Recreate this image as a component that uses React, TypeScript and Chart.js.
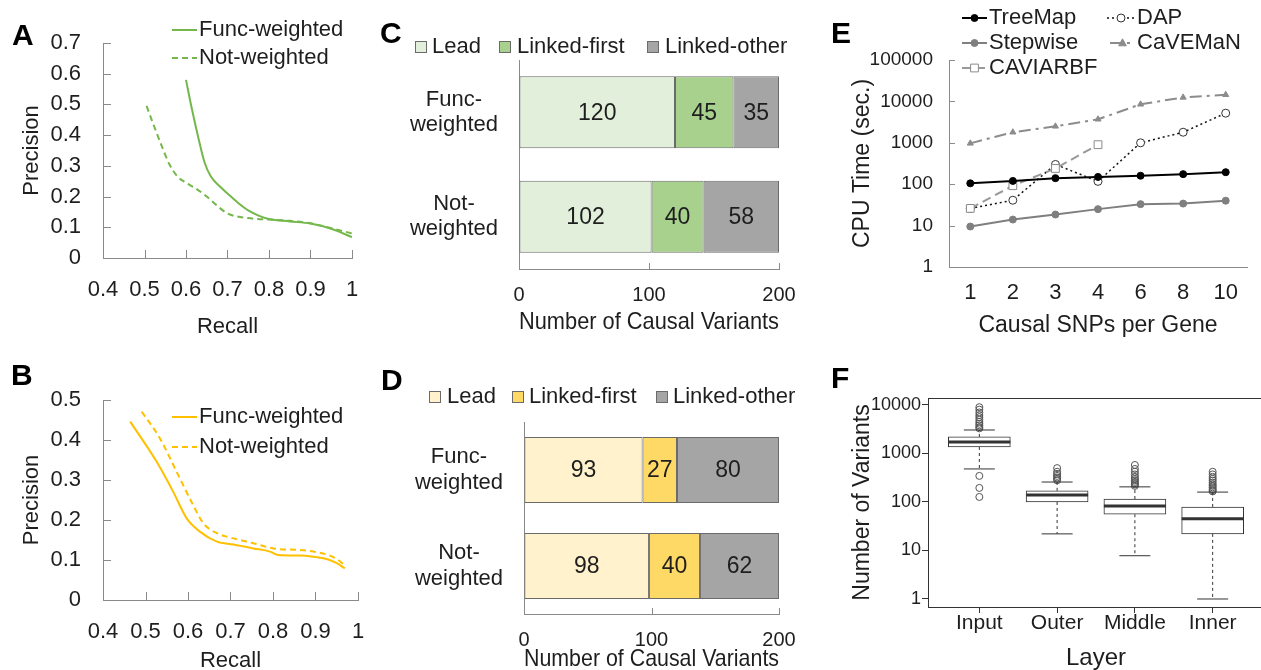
import React, { useEffect, useRef } from 'react';
import { Chart, registerables } from 'chart.js';

Chart.register(...registerables);

const FONT = "'Liberation Sans', Arial, Helvetica, sans-serif";
const TEXT = '#1e1e1e';
const AXIS = '#8a8a8a';

// ---------- Panel A (green precision / recall) ----------
const recallFuncA = [0.6, 0.615, 0.63, 0.645, 0.66, 0.68, 0.7, 0.725, 0.75, 0.775, 0.8, 0.85, 0.9, 0.95, 1.0];
const precisionFuncA = [0.58, 0.48, 0.39, 0.31, 0.265, 0.235, 0.21, 0.18, 0.155, 0.138, 0.127, 0.119, 0.112, 0.095, 0.068];
const recallNotA = [0.505, 0.52, 0.54, 0.56, 0.58, 0.6, 0.625, 0.65, 0.675, 0.7, 0.75, 0.8, 0.85, 0.9, 0.95, 1.0];
const precisionNotA = [0.495, 0.44, 0.37, 0.305, 0.265, 0.245, 0.225, 0.2, 0.17, 0.145, 0.13, 0.125, 0.121, 0.113, 0.097, 0.08];

// ---------- Panel B (gold precision / recall) ----------
const recallFuncB = [0.464, 0.526, 0.565, 0.597, 0.628, 0.668, 0.707, 0.754, 0.793, 0.812, 0.863, 0.895, 0.926, 0.95, 0.969];
const precisionFuncB = [0.446, 0.346, 0.271, 0.204, 0.171, 0.146, 0.139, 0.129, 0.121, 0.1125, 0.111, 0.108, 0.1025, 0.092, 0.079];
const recallNotB = [0.491, 0.534, 0.573, 0.612, 0.636, 0.668, 0.707, 0.754, 0.801, 0.863, 0.895, 0.93, 0.95, 0.969];
const precisionNotB = [0.471, 0.404, 0.321, 0.2375, 0.192, 0.167, 0.154, 0.142, 0.129, 0.125, 0.121, 0.1125, 0.1025, 0.0875];

// ---------- Panels C / D (stacked bars) ----------
const groupLabels = [['Func-', 'weighted'], ['Not-', 'weighted']];
const leadC = [120, 102];
const linkedFirstC = [45, 40];
const linkedOtherC = [35, 58];
const leadD = [93, 98];
const linkedFirstD = [27, 40];
const linkedOtherD = [80, 62];

// ---------- Panel E (CPU time) ----------
const snpCategories = ['1', '2', '3', '4', '6', '8', '10'];
const treeMapTime = [105, 120, 140, 150, 160, 175, 195];
const stepwiseTime = [9.5, 14, 18.5, 25, 33, 34, 40];
const dapTime = [26, 41, 300, 117, 1000, 1800, 5200];
const cavemanTime = [970, 1800, 2500, 3700, 8500, 12500, 14500];
const caviarbfTime = [26, 92, 240, 900, null, null, null];
const logTicksE = [1, 10, 100, 1000, 10000, 100000];

// ---------- Panel F (box plots) ----------
const layers = ['Input', 'Outer', 'Middle', 'Inner'];
const whiskerLow = [480, 22, 7.8, 1];
const quart1 = [1360, 100, 56, 22];
const medians = [1720, 140, 83, 45];
const quart3 = [2200, 170, 115, 79];
const whiskerHigh = [3050, 258, 205, 160];
const outliersInput = [3300, 3500, 3800, 4100, 4500, 5000, 5600, 6200, 7000, 8000, 9000, 345, 195, 127];
const outliersOuter = [280, 300, 320, 345, 380, 420, 500];
const outliersMiddle = [215, 230, 245, 260, 280, 300, 330, 370, 420, 480, 580];
const outliersInner = [165, 175, 185, 200, 215, 230, 250, 275, 300, 330, 370, 420];
const logTicksF = [1, 10, 100, 1000, 10000];

// ---------- plugins ----------
function drawMarker(ctx, style, x, y, r, fill, stroke, bw) {
  ctx.save();
  ctx.setLineDash([]);
  ctx.fillStyle = fill;
  ctx.strokeStyle = stroke;
  ctx.lineWidth = bw;
  ctx.beginPath();
  if (style === 'rect') {
    const s = r * Math.SQRT1_2;
    ctx.rect(x - s, y - s, 2 * s, 2 * s);
  } else if (style === 'triangle') {
    ctx.moveTo(x, y - r * 1.2);
    ctx.lineTo(x + r * 1.1, y + r * 0.8);
    ctx.lineTo(x - r * 1.1, y + r * 0.8);
    ctx.closePath();
  } else {
    ctx.arc(x, y, r, 0, Math.PI * 2);
  }
  ctx.fill();
  ctx.stroke();
  ctx.restore();
}

const customLegend = {
  id: 'customLegend',
  afterDraw(chart, _args, opts) {
    const ctx = chart.ctx;
    const items = opts.items || [];
    ctx.save();
    ctx.font = `${opts.size || 22}px ${FONT}`;
    ctx.textBaseline = 'middle';
    ctx.textAlign = 'left';
    for (let k = 0; k < items.length; k++) {
      const it = items[k];
      const d = chart.data.datasets[it.ds];
      if (opts.kind === 'box') {
        ctx.fillStyle = d.backgroundColor;
        ctx.strokeStyle = d.borderColor;
        ctx.lineWidth = 1;
        ctx.fillRect(it.x, it.y - 6, 12, 12);
        ctx.strokeRect(it.x + 0.5, it.y - 5.5, 11, 11);
      } else {
        ctx.strokeStyle = d.borderColor;
        ctx.lineWidth = d.borderWidth || 1.5;
        ctx.setLineDash(d.borderDash || []);
        ctx.beginPath();
        ctx.moveTo(it.x, it.y);
        ctx.lineTo(it.x + it.w, it.y);
        ctx.stroke();
        ctx.setLineDash([]);
        if (d.pointRadius) {
          drawMarker(ctx, d.pointStyle, it.x + it.w / 2, it.y, d.pointRadius, d.pointBackgroundColor, d.pointBorderColor, d.pointBorderWidth || 1);
        }
      }
      ctx.fillStyle = TEXT;
      ctx.fillText(d.label, it.tx, it.y);
    }
    ctx.restore();
  },
};

const insideTicks = {
  id: 'insideTicks',
  afterDraw(chart, _args, opts) {
    const ctx = chart.ctx;
    const axes = opts.axes || [];
    ctx.save();
    ctx.strokeStyle = AXIS;
    ctx.lineWidth = 1;
    for (let a = 0; a < axes.length; a++) {
      const s = chart.scales[axes[a].id];
      const len = axes[a].len;
      if (!s) continue;
      ctx.beginPath();
      for (let i = 0; i < s.ticks.length; i++) {
        const p = Math.round(s.getPixelForTick(i)) + 0.5;
        if (s.isHorizontal()) {
          ctx.moveTo(p, s.top);
          ctx.lineTo(p, s.top - len);
        } else {
          ctx.moveTo(s.right, p);
          ctx.lineTo(s.right + len, p);
        }
      }
      ctx.stroke();
    }
    ctx.restore();
  },
};

const barValues = {
  id: 'barValues',
  afterDatasetsDraw(chart) {
    const ctx = chart.ctx;
    ctx.save();
    ctx.font = `23px ${FONT}`;
    ctx.fillStyle = TEXT;
    ctx.textAlign = 'center';
    ctx.textBaseline = 'middle';
    chart.data.datasets.forEach((ds, di) => {
      const meta = chart.getDatasetMeta(di);
      meta.data.forEach((el, i) => {
        const c = el.getCenterPoint();
        ctx.fillText(String(ds.data[i]), c.x, c.y + 1);
      });
    });
    ctx.restore();
  },
};

const boxStats = {
  id: 'boxStats',
  afterDatasetsDraw(chart) {
    const { ctx } = chart;
    const x = chart.scales.x;
    const y = chart.scales.y;
    const meta = chart.getDatasetMeta(0);
    ctx.save();
    ctx.strokeStyle = '#333';
    layers.forEach((_, i) => {
      const el = meta.data[i];
      const cx = x.getPixelForValue(i + 1);
      const w = el.width;
      const pLow = y.getPixelForValue(whiskerLow[i]);
      const pQ1 = y.getPixelForValue(quart1[i]);
      const pMed = y.getPixelForValue(medians[i]);
      const pQ3 = y.getPixelForValue(quart3[i]);
      const pHigh = y.getPixelForValue(whiskerHigh[i]);
      ctx.lineWidth = 1;
      ctx.setLineDash([3, 3]);
      ctx.beginPath();
      ctx.moveTo(cx, pQ3);
      ctx.lineTo(cx, pHigh);
      ctx.moveTo(cx, pQ1);
      ctx.lineTo(cx, pLow);
      ctx.stroke();
      ctx.setLineDash([]);
      ctx.beginPath();
      ctx.moveTo(cx - w / 4, pHigh);
      ctx.lineTo(cx + w / 4, pHigh);
      ctx.moveTo(cx - w / 4, pLow);
      ctx.lineTo(cx + w / 4, pLow);
      ctx.stroke();
      ctx.lineWidth = 3;
      ctx.beginPath();
      ctx.moveTo(cx - w / 2, pMed);
      ctx.lineTo(cx + w / 2, pMed);
      ctx.stroke();
    });
    ctx.restore();
  },
};

const frame = {
  id: 'frame',
  afterDraw(chart) {
    const { ctx, chartArea: a } = chart;
    ctx.save();
    ctx.strokeStyle = '#333';
    ctx.lineWidth = 1;
    ctx.strokeRect(Math.round(a.left) + 0.5, Math.round(a.top) + 0.5, Math.round(a.right - a.left), Math.round(a.bottom - a.top));
    ctx.restore();
  },
};

// ---------- helpers ----------
const f = (size, extra = {}) => ({ family: FONT, size, ...extra });
const fmt1 = (v) => String(Math.round(Number(v) * 10) / 10);
const noLegend = { legend: { display: false }, tooltip: { enabled: false } };
const CLEAR = 'rgba(0,0,0,0)';

function prConfig(p) {
  return {
    type: 'line',
    data: {
      datasets: [
        {
          label: 'Func-weighted',
          data: p.fx.map((x, i) => ({ x, y: p.fy[i] })),
          borderColor: p.color,
          borderWidth: 2,
          pointRadius: 0,
          cubicInterpolationMode: 'monotone',
        },
        {
          label: 'Not-weighted',
          data: p.nx.map((x, i) => ({ x, y: p.ny[i] })),
          borderColor: p.color,
          borderWidth: 2,
          borderDash: [6, 4],
          pointRadius: 0,
          cubicInterpolationMode: 'monotone',
        },
      ],
    },
    options: {
      responsive: false,
      animation: false,
      layout: { padding: { left: 0, top: p.top, right: p.right, bottom: 0 } },
      plugins: {
        ...noLegend,
        customLegend: {
          kind: 'line',
          size: 22,
          items: [
            { ds: 0, x: 172, w: 25, tx: 199, y: p.legY[0] },
            { ds: 1, x: 172, w: 25, tx: 199, y: p.legY[1] },
          ],
        },
        insideTicks: { axes: [{ id: 'x', len: 8 }, { id: 'y', len: 8 }] },
      },
      scales: {
        x: {
          type: 'linear',
          min: 0.4,
          max: 1,
          afterFit: (s) => { s.height = p.xh; },
          ticks: { stepSize: 0.1, font: f(22), color: TEXT, padding: 0, maxRotation: 0, autoSkip: false, callback: fmt1 },
          grid: { drawOnChartArea: false, drawTicks: true, tickLength: 19, color: CLEAR },
          border: { display: true, color: AXIS, width: 1 },
          title: { display: true, text: 'Recall', font: f(22), color: TEXT, padding: 0 },
        },
        y: {
          type: 'linear',
          min: 0,
          max: p.ymax,
          afterFit: (s) => { s.width = 103; },
          ticks: { stepSize: 0.1, font: f(22), color: TEXT, padding: 22, callback: fmt1 },
          grid: { drawOnChartArea: false, drawTicks: false },
          border: { display: true, color: AXIS, width: 1 },
          title: { display: true, text: 'Precision', font: f(22), color: TEXT, padding: { top: 19, bottom: 0 } },
        },
      },
    },
    plugins: [customLegend, insideTicks],
  };
}

function stackConfig(p) {
  const mk = (label, data, bg) => ({
    label,
    data,
    backgroundColor: bg,
    borderColor: '#6b6b6b',
    borderWidth: 1,
    borderSkipped: false,
  });
  return {
    type: 'bar',
    data: {
      labels: groupLabels,
      datasets: [
        mk('Lead', p.lead, p.c1),
        mk('Linked-first', p.first, p.c2),
        mk('Linked-other', p.other, '#A5A5A5'),
      ],
    },
    options: {
      indexAxis: 'y',
      responsive: false,
      animation: false,
      datasets: { bar: { barPercentage: 0.69, categoryPercentage: 1 } },
      layout: { padding: { left: 0, top: p.top, right: 41, bottom: 0 } },
      plugins: {
        ...noLegend,
        customLegend: {
          kind: 'box',
          size: 22,
          items: p.leg.map((l, i) => ({ ds: i, x: l[0], tx: l[1], y: p.legY })),
        },
        insideTicks: { axes: [{ id: 'x', len: 6 }] },
      },
      scales: {
        x: {
          stacked: true,
          min: 0,
          max: 200,
          afterFit: (s) => { s.height = p.xh; },
          ticks: { stepSize: 100, font: f(20), color: TEXT, padding: 0, maxRotation: 0 },
          grid: { drawOnChartArea: false, drawTicks: true, tickLength: 14, color: CLEAR },
          border: { display: true, color: AXIS, width: 1 },
          title: { display: true, text: 'Number of Causal Variants', font: f(24), color: TEXT, padding: 0 },
        },
        y: {
          stacked: true,
          afterFit: (s) => { s.width = p.yw; },
          ticks: { font: f(22, { lineHeight: 1.15 }), color: TEXT, padding: 21, crossAlign: 'center' },
          grid: { display: false, drawTicks: false },
          border: { display: true, color: AXIS, width: 1 },
        },
      },
    },
    plugins: [barValues, customLegend, insideTicks],
  };
}

function cpuConfig() {
  return {
    type: 'line',
    data: {
      labels: snpCategories,
      datasets: [
        { label: 'TreeMap', data: treeMapTime, borderColor: '#000', borderWidth: 2, pointStyle: 'circle', pointRadius: 3.5, pointBackgroundColor: '#000', pointBorderColor: '#000', pointBorderWidth: 1 },
        { label: 'Stepwise', data: stepwiseTime, borderColor: '#7f7f7f', borderWidth: 2, pointStyle: 'circle', pointRadius: 3.5, pointBackgroundColor: '#7f7f7f', pointBorderColor: '#7f7f7f', pointBorderWidth: 1 },
        { label: 'CAVIARBF', data: caviarbfTime, borderColor: '#9a9a9a', borderWidth: 2, borderDash: [9, 5], pointStyle: 'rect', pointRadius: 5.5, pointBackgroundColor: '#fff', pointBorderColor: '#8a8a8a', pointBorderWidth: 1 },
        { label: 'DAP', data: dapTime, borderColor: '#111', borderWidth: 1.5, borderDash: [2, 3], pointStyle: 'circle', pointRadius: 4, pointBackgroundColor: '#fff', pointBorderColor: '#333', pointBorderWidth: 1 },
        { label: 'CaVEMaN', data: cavemanTime, borderColor: '#8c8c8c', borderWidth: 2, borderDash: [12, 5, 3, 5], pointStyle: 'triangle', pointRadius: 3.5, pointBackgroundColor: '#8c8c8c', pointBorderColor: '#8c8c8c', pointBorderWidth: 1 },
      ],
    },
    options: {
      responsive: false,
      animation: false,
      spanGaps: false,
      layout: { padding: { left: 0, top: 60, right: 14, bottom: 0 } },
      plugins: {
        ...noLegend,
        customLegend: {
          kind: 'line',
          size: 22,
          items: [
            { ds: 0, x: 132, w: 25, tx: 159, y: 18 },
            { ds: 3, x: 277, w: 28, tx: 307, y: 18 },
            { ds: 1, x: 132, w: 25, tx: 159, y: 43 },
            { ds: 4, x: 280, w: 25, tx: 307, y: 43 },
            { ds: 2, x: 132, w: 25, tx: 159, y: 68 },
          ],
        },
        insideTicks: { axes: [{ id: 'y', len: 6 }] },
      },
      scales: {
        x: {
          type: 'category',
          offset: true,
          afterFit: (s) => { s.height = 73; },
          ticks: { font: f(22), color: TEXT, padding: 13, maxRotation: 0, autoSkip: false },
          grid: { display: false, drawTicks: false },
          border: { display: true, color: AXIS, width: 1 },
          title: { display: true, text: 'Causal SNPs per Gene', font: f(23), color: TEXT, padding: { top: 0, bottom: 1 } },
        },
        y: {
          type: 'logarithmic',
          min: 1,
          max: 100000,
          afterFit: (s) => { s.width = 119; },
          afterBuildTicks: (s) => { s.ticks = logTicksE.map((v) => ({ value: v })); },
          ticks: { font: f(19), color: TEXT, padding: 16, callback: (v) => String(v) },
          grid: { display: false, drawTicks: false },
          border: { display: true, color: AXIS, width: 1 },
          title: { display: true, text: 'CPU Time (sec.)', font: f(23), color: TEXT, padding: { top: 19, bottom: 0 } },
        },
      },
    },
    plugins: [customLegend, insideTicks],
  };
}

function boxConfig() {
  const outlierLists = [outliersInput, outliersOuter, outliersMiddle, outliersInner];
  const outlierPoints = [];
  outlierLists.forEach((list, i) => list.forEach((v) => outlierPoints.push({ x: i + 1, y: v })));
  return {
    type: 'bar',
    data: {
      datasets: [
        {
          label: 'IQR',
          data: layers.map((_, i) => ({ x: i + 1, y: [quart1[i], quart3[i]] })),
          backgroundColor: '#ffffff',
          borderColor: '#333',
          borderWidth: 1,
          borderSkipped: false,
          barThickness: 62,
        },
        {
          type: 'scatter',
          label: 'Outliers',
          data: outlierPoints,
          pointStyle: 'circle',
          pointRadius: 3.5,
          backgroundColor: 'rgba(0,0,0,0)',
          borderColor: '#555',
          borderWidth: 1,
        },
      ],
    },
    options: {
      responsive: false,
      animation: false,
      layout: { padding: { left: 0, top: 58, right: 6, bottom: 0 } },
      plugins: { ...noLegend },
      scales: {
        x: {
          type: 'linear',
          min: 0.34,
          max: 4.66,
          offset: false,
          afterFit: (s) => { s.height = 66; },
          afterBuildTicks: (s) => { s.ticks = layers.map((_, i) => ({ value: i + 1 })); },
          ticks: { font: f(21), color: TEXT, padding: -2, maxRotation: 0, autoSkip: false, callback: (v) => layers[Math.round(v) - 1] },
          grid: { drawOnChartArea: false, drawTicks: true, tickLength: 6, color: '#333', offset: false },
          border: { display: false },
          title: { display: true, text: 'Layer', font: f(24), color: TEXT, padding: 0 },
        },
        y: {
          type: 'logarithmic',
          min: 0.684,
          max: 13930,
          afterFit: (s) => { s.width = 98; },
          afterBuildTicks: (s) => { s.ticks = logTicksF.map((v) => ({ value: v })); },
          ticks: { font: f(18), color: TEXT, padding: 1, callback: (v) => String(v) },
          grid: { drawOnChartArea: false, drawTicks: true, tickLength: 6, color: '#333' },
          border: { display: false },
          title: { display: true, text: 'Number of Variants', font: f(23), color: TEXT, padding: { top: 19, bottom: 0 } },
        },
      },
    },
    plugins: [boxStats, frame],
  };
}

function ChartCanvas({ left, top, width, height, make }) {
  const ref = useRef(null);
  useEffect(() => {
    const chart = new Chart(ref.current, make());
    return () => chart.destroy();
  }, []);
  return (
    <canvas
      ref={ref}
      width={width}
      height={height}
      style={{ position: 'absolute', left, top, width, height }}
    />
  );
}

function Letter({ ch, left, top }) {
  return (
    <div
      style={{
        position: 'absolute',
        left,
        top,
        fontFamily: FONT,
        fontWeight: 'bold',
        fontSize: 30,
        lineHeight: '30px',
        color: '#000',
      }}
    >
      {ch}
    </div>
  );
}

export default function App() {
  return (
    <div
      style={{
        position: 'fixed',
        left: 0,
        top: 0,
        width: 1261,
        height: 670,
        background: '#fff',
        overflow: 'hidden',
      }}
    >
      <ChartCanvas
        left={0}
        top={0}
        width={370}
        height={340}
        make={() =>
          prConfig({
            fx: recallFuncA, fy: precisionFuncA, nx: recallNotA, ny: precisionNotA,
            color: '#74B84B', top: 43, right: 18, xh: 82, ymax: 0.7, legY: [30, 58],
          })
        }
      />
      <ChartCanvas
        left={0}
        top={340}
        width={370}
        height={334}
        make={() =>
          prConfig({
            fx: recallFuncB, fy: precisionFuncB, nx: recallNotB, ny: precisionNotB,
            color: '#FFC000', top: 60, right: 12, xh: 74, ymax: 0.5, legY: [77, 107],
          })
        }
      />
      <ChartCanvas
        left={370}
        top={0}
        width={450}
        height={337}
        make={() =>
          stackConfig({
            lead: leadC, first: linkedFirstC, other: linkedOtherC,
            c1: '#E2EFDA', c2: '#A9D18E', top: 60, xh: 68, yw: 149,
            leg: [[45, 62], [129, 147], [277, 295]], legY: 47,
          })
        }
      />
      <ChartCanvas
        left={370}
        top={340}
        width={450}
        height={334}
        make={() =>
          stackConfig({
            lead: leadD, first: linkedFirstD, other: linkedOtherD,
            c1: '#FFF2CC', c2: '#FFD966', top: 82, xh: 60, yw: 154,
            leg: [[59, 77], [142, 159], [286, 303]], legY: 57,
          })
        }
      />
      <ChartCanvas left={830} top={0} width={431} height={340} make={cpuConfig} />
      <ChartCanvas left={830} top={340} width={440} height={333} make={boxConfig} />
      <Letter ch="A" left={12} top={20} />
      <Letter ch="B" left={11} top={360} />
      <Letter ch="C" left={380} top={18} />
      <Letter ch="D" left={381} top={365} />
      <Letter ch="E" left={831} top={18} />
      <Letter ch="F" left={831} top={363} />
    </div>
  );
}
